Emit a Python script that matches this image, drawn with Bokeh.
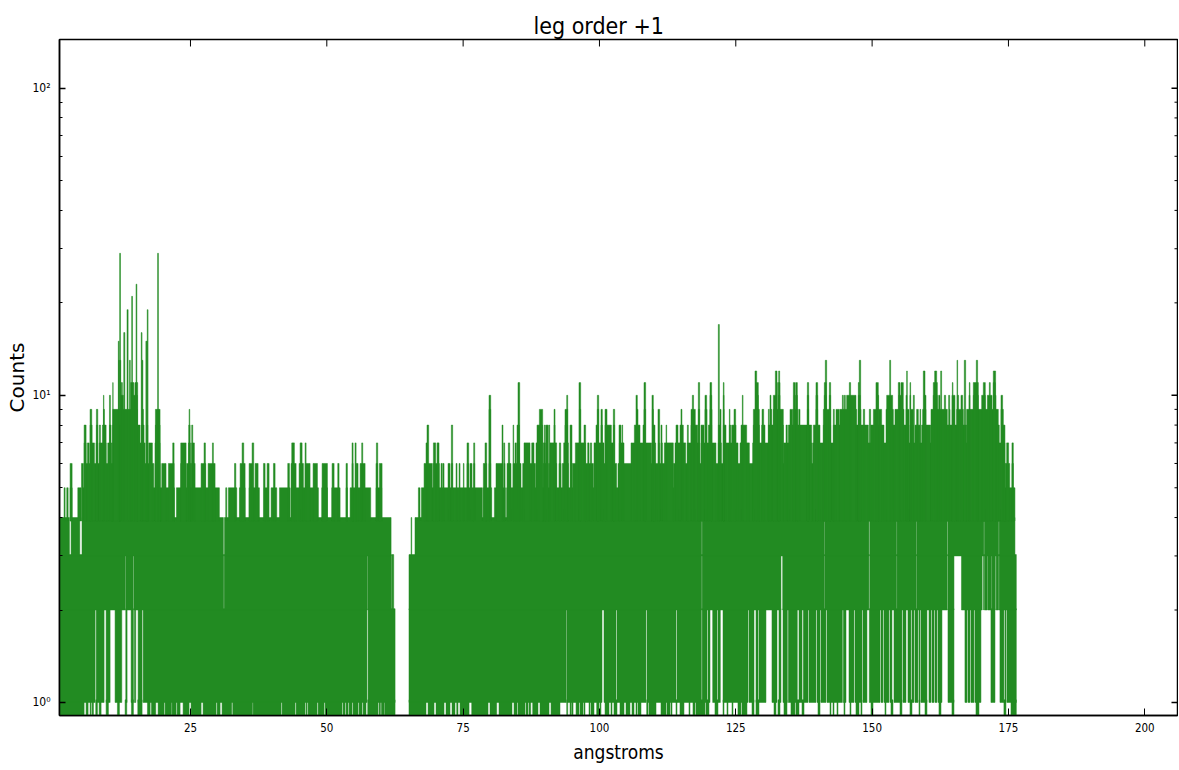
from bokeh.plotting import figure
from bokeh.models import Range1d, FixedTicker, Title
from bokeh.embed import file_html
from bokeh.resources import INLINE

TITLE = "leg order +1"
X_LABEL = "angstroms"
Y_LABEL = "Counts"
GREEN = "#228b22"
X_TICKS = [25, 50, 75, 100, 125, 150, 175, 200]
Y_TICKS = [1, 10, 100]
Y_TICK_LABELS = {1: "10\u2070", 10: "10\u00b9", 100: "10\u00b2"}
Y_MINOR = [2, 3, 4, 5, 6, 7, 8, 9, 20, 30, 40, 50, 60, 70, 80, 90]
X_RANGE = (0.98, 206.0)
Y_RANGE = (0.907, 144.0)
SCALE_FIX = 5.46 / 5.454

# Wavelength spans (angstroms) in which the spectrum reaches each count.
data_start = 1.0
left_end = {1: 62.45, 2: 62.2, 3: 61.9}
right_start = {1: 65.0, 2: 65.0, 3: 65.4}
data_end = 176.25

reach_4 = [(1.0, 2.8), (3.1, 4.7), (5.1, 31.0), (31.2, 61.72), (65.38, 65.5), (66.1, 176.0)]
reach_5 = [(1.82, 2.01), (2.31, 2.56), (2.92, 3.29), (4.33, 4.94), (5.12, 22.03), (22.4, 30.27), (31.43, 31.62),
           (31.92, 33.45), (33.94, 34.98), (35.71, 37.6), (38.46, 39.25), (39.74, 40.78), (41.27, 43.22),
           (43.4, 48.41), (49.02, 50.06), (50.85, 52.38), (53.47, 53.72), (54.21, 57.99), (58.97, 60.01),
           (66.72, 67.02), (67.27, 78.44), (78.62, 80.15), (80.64, 82.65), (82.9, 176.0)]
reach_6 = [(2.92, 3.29), (5.0, 5.36), (5.67, 18.25), (18.49, 19.4), (19.71, 20.5), (20.93, 21.97), (23.19, 24.17),
           (24.29, 25.02), (25.14, 25.82), (26.91, 27.77), (28.2, 29.48), (33.04, 33.28), (34.06, 34.98),
           (35.71, 36.38), (36.81, 37.36), (38.34, 38.64), (39.01, 39.37), (40.17, 40.47), (42.79, 43.1),
           (43.4, 44.32), (44.87, 45.66), (45.97, 46.88), (47.43, 48.23), (49.08, 50.06), (50.91, 51.28),
           (51.95, 52.19), (53.47, 53.72), (54.57, 54.76), (55.31, 55.67), (56.04, 56.96), (58.97, 59.27),
           (59.58, 60.07), (67.76, 69.28), (69.47, 70.56), (70.87, 71.05), (71.17, 71.42), (72.15, 72.52),
           (72.76, 73.0), (73.62, 73.8), (74.17, 74.35), (74.96, 75.08), (75.63, 75.94), (76.18, 76.55),
           (76.85, 77.04), (78.62, 79.23), (79.66, 79.97), (80.94, 82.1), (82.41, 82.59), (82.96, 83.69),
           (84.06, 85.52), (85.83, 88.09), (88.21, 89.31), (89.61, 90.53), (90.71, 92.05), (92.48, 92.85),
           (93.09, 94.19), (94.92, 98.77), (98.89, 103.04), (103.29, 113.42), (113.5, 123.44), (123.56, 174.25),
           (174.3, 175.03), (175.45, 175.7)]
reach_7 = [(5.49, 5.85), (6.1, 6.4), (6.58, 7.38), (7.68, 7.99), (8.29, 9.52), (9.82, 10.55), (10.74, 16.66),
           (17.33, 18.0), (18.49, 19.4), (21.72, 21.97), (23.19, 24.17), (24.6, 24.96), (25.2, 25.69), (27.46, 27.71),
           (28.99, 29.17), (34.43, 34.73), (36.26, 36.56), (43.52, 44.01), (45.05, 45.42), (45.97, 46.15),
           (54.57, 54.76), (55.12, 55.31), (56.34, 56.53), (59.03, 59.27), (68.12, 68.37), (69.47, 69.89),
           (70.14, 70.5), (75.63, 75.94), (76.85, 77.04), (78.93, 79.23), (82.35, 82.53), (83.2, 83.45),
           (84.42, 84.6), (84.73, 85.22), (86.07, 87.17), (87.48, 87.9), (88.27, 89.31), (89.61, 89.98),
           (90.83, 92.05), (92.54, 92.79), (93.34, 94.19), (95.47, 97.36), (97.73, 97.98), (98.22, 98.46),
           (98.89, 100.72), (101.03, 102.43), (103.53, 104.39), (105.67, 109.45), (109.64, 109.76), (109.94, 110.19),
           (110.67, 110.86), (111.16, 111.41), (111.77, 113.42), (113.73, 115.68), (115.99, 118.18), (118.49, 121.23),
           (121.66, 122.22), (122.58, 125.27), (125.64, 127.35), (127.96, 133.57), (133.69, 138.76), (138.94, 174.17),
           (174.48, 174.84), (175.45, 175.7)]
reach_8 = [(5.49, 5.85), (6.58, 6.95), (7.74, 7.99), (8.29, 8.48), (8.84, 9.52), (10.13, 10.43), (10.74, 15.74),
           (15.99, 16.47), (16.96, 17.15), (18.55, 19.4), (24.66, 24.9), (25.2, 25.39), (68.3, 68.61), (72.76, 73.0),
           (82.04, 82.22), (84.06, 84.18), (84.79, 85.22), (88.45, 89.49), (89.8, 89.98), (90.1, 90.53),
           (90.65, 90.77), (91.57, 91.75), (93.58, 94.07), (94.5, 94.86), (97.06, 97.36), (99.26, 99.68),
           (100.17, 100.42), (100.91, 102.07), (102.43, 102.68), (103.47, 103.84), (104.02, 104.14), (106.28, 107.32),
           (107.87, 108.11), (109.64, 110.06), (111.16, 111.35), (112.08, 112.2), (113.91, 114.28), (114.64, 115.25),
           (115.99, 116.17), (116.66, 117.88), (118.49, 119.04), (119.84, 120.45), (121.67, 121.97), (122.58, 123.07),
           (123.68, 123.93), (124.11, 124.9), (125.82, 126.86), (128.08, 129.18), (129.6, 130.21), (130.83, 133.57),
           (134.06, 134.3), (134.49, 138.76), (139.07, 140.29), (140.9, 142.24), (142.73, 149.14), (149.57, 152.01),
           (152.5, 156.47), (156.77, 157.38), (157.69, 158.6), (158.91, 160.56), (160.62, 167.15), (167.45, 173.13),
           (173.56, 174.17)]
reach_9 = [(6.58, 6.89), (7.74, 7.99), (9.03, 9.21), (10.74, 11.96), (12.08, 15.25), (16.11, 16.35), (18.55, 19.4),
           (24.72, 24.84), (79.66, 79.97), (88.88, 89.49), (91.57, 91.75), (93.58, 94.07), (96.2, 96.45),
           (99.5, 99.75), (100.17, 100.42), (100.91, 101.27), (102.43, 102.68), (106.71, 106.95), (108.05, 108.35),
           (109.57, 109.76), (110.61, 110.92), (114.82, 115.0), (116.66, 117.45), (118.0, 118.24), (119.22, 119.59),
           (120.14, 120.5), (121.97, 122.16), (122.58, 122.71), (123.68, 123.8), (124.54, 124.84), (128.08, 129.18),
           (129.67, 129.97), (130.83, 131.0), (131.25, 131.44), (131.74, 133.57), (134.79, 135.28), (135.4, 136.14),
           (136.38, 136.63), (137.97, 138.21), (139.55, 139.86), (140.9, 142.24), (142.73, 142.91), (143.22, 143.83),
           (143.95, 147.0), (147.31, 147.8), (148.22, 148.47), (149.32, 149.57), (150.06, 150.97), (151.09, 151.58),
           (152.38, 153.72), (154.02, 155.67), (156.04, 156.59), (156.89, 157.38), (157.99, 158.3), (158.6, 158.73),
           (159.09, 159.7), (160.62, 163.61), (163.98, 164.1), (164.53, 164.95), (165.32, 166.54), (167.15, 172.95),
           (173.44, 173.87)]
reach_10 = [(9.03, 9.12), (10.13, 10.31), (12.2, 12.69), (14.22, 15.25), (79.66, 79.97), (93.89, 94.07), (99.5, 99.75),
            (106.58, 106.83), (109.51, 109.76), (116.9, 117.13), (119.22, 119.53), (120.14, 120.45), (122.58, 122.71),
            (126.06, 126.19), (128.57, 128.99), (131.13, 131.31), (131.74, 132.23), (132.66, 132.96), (135.53, 135.77),
            (135.89, 136.14), (137.97, 138.21), (139.55, 139.86), (141.08, 141.45), (142.0, 142.24), (144.38, 144.56),
            (144.74, 144.93), (145.17, 146.88), (147.31, 147.67), (150.67, 151.03), (152.5, 153.6), (154.7, 155.24),
            (156.04, 156.22), (156.77, 156.89), (157.38, 157.57), (159.34, 159.7), (161.04, 161.78), (162.02, 162.27),
            (163.06, 163.3), (163.85, 164.04), (164.46, 165.01), (165.44, 165.68), (166.11, 166.42), (167.58, 167.76),
            (168.37, 169.29), (169.9, 170.57), (170.94, 171.79), (172.03, 172.52), (173.44, 173.74)]
reach_11 = [(10.74, 10.8), (12.3, 12.5), (14.0, 14.6), (14.8, 15.3), (84.97, 85.28), (96.14, 96.45), (108.05, 108.35),
            (118.0, 118.24), (120.14, 120.44), (122.58, 122.71), (128.57, 128.99), (132.35, 132.47), (132.66, 132.96),
            (135.4, 135.77), (135.89, 136.14), (137.97, 138.21), (139.55, 139.86), (141.08, 141.45), (142.0, 142.24),
            (145.66, 145.9), (147.31, 147.49), (150.54, 150.97), (154.63, 154.94), (155.12, 155.55), (156.77, 156.89),
            (161.04, 161.78), (164.53, 164.65), (167.64, 167.76), (168.37, 169.29), (170.2, 170.57), (171.3, 171.48),
            (172.03, 172.4)]
reach_12 = [(128.38, 128.69), (132.11, 132.41), (132.72, 132.9), (156.16, 156.28), (159.21, 159.52), (161.29, 161.66),
            (162.39, 162.57), (172.03, 172.46)]
reach_13 = [(11.8, 11.95), (12.05, 12.2), (13.8, 13.95), (16.1, 16.25), (141.26, 141.51), (147.49, 147.74),
            (153.05, 153.23), (165.38, 165.5), (166.72, 166.97), (168.92, 169.16)]
reach_15 = [(11.75, 11.9), (16.8, 16.95), (16.95, 17.05)]
reach_16 = [(12.75, 12.95), (15.95, 16.1)]
reach_19 = [(13.35, 13.55), (17.05, 17.2)]
reach_21 = [(14.2, 14.35)]
reach_23 = [(15.0, 15.15)]
reach_17 = [(121.66, 121.85)]
reach_29 = [(12.0, 12.15), (18.95, 19.1)]

# Spans in which the counts stay above zero (nothing drawn below 1).
no_zero = [(5.49, 5.85), (6.22, 6.59), (6.77, 6.95), (7.2, 7.62), (7.93, 8.24), (8.6, 9.52), (9.94, 11.59), (11.96, 13.0),
           (13.3, 14.16), (14.52, 15.32), (16.11, 17.09), (17.58, 17.82), (18.61, 19.04), (20.14, 20.32), (21.48, 21.6),
           (22.34, 22.52), (23.07, 23.62), (24.72, 25.08), (26.92, 27.28), (29.66, 29.85), (30.4, 30.76), (32.53, 32.72),
           (36.32, 36.44), (41.57, 41.75), (44.13, 44.32), (45.96, 46.15), (46.33, 46.51), (48.16, 48.35), (49.44, 49.63),
           (52.74, 52.92), (53.29, 53.47), (53.84, 54.02), (54.57, 54.75), (55.67, 55.85), (56.4, 56.59), (57.13, 57.44),
           (59.33, 59.52), (59.76, 59.94), (60.43, 60.55), (68.12, 68.49), (69.59, 69.95), (71.42, 71.78), (72.52, 72.88),
           (73.43, 73.74), (73.98, 74.35), (76.0, 76.49), (79.48, 79.84), (81.06, 81.49), (83.87, 84.24), (84.79, 84.97),
           (86.25, 86.44), (86.8, 86.99), (87.29, 87.66), (88.63, 89.0), (90.65, 91.02), (92.66, 93.89), (94.07, 94.5),
           (94.68, 94.8), (95.05, 95.6), (96.14, 96.33), (96.88, 97.06), (97.24, 97.98), (98.16, 98.34), (98.89, 99.38),
           (99.81, 100.0), (100.17, 100.91), (101.64, 102.0), (102.19, 102.55), (103.1, 103.65), (104.39, 104.75),
           (105.48, 105.85), (106.22, 106.58), (106.77, 106.95), (107.5, 108.54), (108.78, 108.96), (110.25, 111.16),
           (112.08, 112.26), (112.81, 112.99), (113.18, 113.91), (114.09, 114.64), (115.37, 116.29), (116.47, 117.02),
           (117.39, 117.57), (119.22, 119.4), (119.95, 121.05), (121.6, 122.52), (122.7, 123.25), (123.43, 124.17),
           (124.35, 125.26), (125.81, 126.0), (126.91, 127.83), (128.2, 128.56), (129.11, 131.86), (132.22, 132.59),
           (132.96, 133.69), (134.24, 134.97), (135.7, 135.89), (136.44, 136.99), (137.36, 139.92), (140.29, 142.12),
           (142.3, 142.67), (142.85, 143.4), (143.58, 144.68), (144.86, 145.78), (145.96, 146.88), (147.43, 147.79),
           (147.98, 149.63), (150.0, 152.19), (152.37, 153.29), (153.66, 154.94), (155.3, 156.77), (157.14, 158.42),
           (158.6, 159.52), (159.88, 162.08), (162.45, 164.46), (164.83, 168.86), (169.41, 173.98), (174.35, 175.27)]

# Spans in which the counts stay at 2 or more (nothing drawn between 1 and 2).
no_one = [(7.5, 7.7), (9.15, 9.52), (10.25, 11.16), (12.39, 13.12), (13.36, 14.1), (14.52, 14.7), (14.95, 15.38),
          (16.1, 16.3), (57.3, 57.5), (93.76, 93.89), (100.36, 100.72), (102.92, 103.1), (108.41, 108.6),
          (113.91, 114.09), (118.55, 118.7), (119.59, 119.77), (120.14, 120.63), (121.42, 121.6), (122.03, 122.52),
          (127.1, 127.28), (128.2, 128.56), (128.93, 129.11), (130.39, 131.49), (132.41, 132.77), (133.14, 133.51),
          (134.3, 134.49), (136.13, 136.44), (136.99, 137.23), (138.09, 138.27), (139.55, 139.74), (140.29, 140.47),
          (141.38, 141.57), (144.38, 144.56), (145.05, 145.6), (146.51, 146.7), (147.98, 148.16), (148.89, 149.32),
          (151.28, 151.46), (151.82, 152.01), (152.92, 153.11), (153.47, 153.84), (155.3, 155.49), (156.04, 156.4),
          (156.95, 157.14), (157.5, 157.69), (158.23, 158.42), (158.6, 158.78), (159.88, 160.25), (160.62, 160.8),
          (161.17, 161.35), (161.71, 161.9), (162.63, 163.73), (164.83, 166.84), (167.21, 167.39), (167.76, 167.94),
          (168.49, 168.67), (169.77, 171.6), (172.34, 173.25), (173.98, 174.17), (174.35, 174.53)]

# Spans in which the counts stay at 3 or more (nothing drawn between 2 and 3).
no_two = [(13.0, 13.1), (14.48, 14.6), (31.05, 31.15), (57.32, 57.42), (61.8, 61.9), (118.6, 118.7), (133.14, 133.45),
          (141.1, 141.2), (149.25, 149.4), (154.3, 154.4), (157.9, 158.0), (163.6, 163.73), (164.83, 166.2),
          (170.0, 170.25), (170.3, 170.4), (170.9, 171.0), (171.7, 171.8), (172.4, 172.55), (173.0, 173.1)]

# Spans in which the counts stay at 4 or more (nothing drawn between 3 and 4).
no_three = [(31.05, 31.15), (118.6, 118.7), (141.1, 141.2), (149.25, 149.4), (154.3, 154.4), (157.9, 158.0),
            (163.6, 163.73), (170.3, 170.4), (173.0, 173.1)]

REACHES = {5: reach_5, 6: reach_6, 7: reach_7, 8: reach_8, 9: reach_9, 10: reach_10, 11: reach_11,
           12: reach_12, 13: reach_13, 15: reach_15, 16: reach_16, 17: reach_17, 19: reach_19, 21: reach_21,
           23: reach_23, 29: reach_29}


def fix(x):
    return 1.0 + (x - 1.0) * SCALE_FIX


def subtract(spans, gaps):
    out = []
    for lo, hi in spans:
        pos = lo
        for a, b in gaps:
            if b <= pos or a >= hi:
                continue
            if a > pos:
                out.append((pos, a))
            pos = max(pos, b)
        if pos < hi:
            out.append((pos, hi))
    return out


def draw(p, spans, bottom, top):
    p.quad(left=[fix(a) for a, _ in spans], right=[fix(b) for _, b in spans],
           bottom=[bottom] * len(spans), top=[top] * len(spans),
           fill_color=GREEN, line_color=GREEN, line_width=0.5)


p = figure(frame_width=1118, frame_height=676, y_axis_type="log", x_range=Range1d(*X_RANGE), y_range=Range1d(*Y_RANGE),
           output_backend="svg", toolbar_location=None, min_border_left=59, min_border_top=39, min_border_right=1,
           min_border_bottom=50, background_fill_color="white", border_fill_color="white", outline_line_color="black",
           outline_line_width=1.5)
p.grid.visible = False

draw(p, subtract([(data_start, left_end[1]), (right_start[1], data_end)], no_zero), Y_RANGE[0], 1.02)
draw(p, subtract([(data_start, left_end[1]), (right_start[1], data_end)], no_one), 1, 2.02)
draw(p, subtract([(data_start, left_end[2]), (right_start[2], data_end)], no_two), 2, 3.03)
draw(p, subtract(reach_4, no_three), 3, 4)
for level, spans in REACHES.items():
    draw(p, spans, 3.9, level)

# Inward ticks along the top and right edges, through the same scales as the data.
PX_X = (X_RANGE[1] - X_RANGE[0]) / 1118
x_tick_drop = 10 ** (-7 * 2.2 / 676)
p.segment(x0=X_TICKS, x1=X_TICKS, y0=[Y_RANGE[1]] * len(X_TICKS), y1=[Y_RANGE[1] * x_tick_drop] * len(X_TICKS),
          line_color="black", line_width=1)
p.segment(x0=[X_RANGE[1]] * len(Y_TICKS), x1=[X_RANGE[1] - 6 * PX_X] * len(Y_TICKS), y0=Y_TICKS, y1=Y_TICKS,
          line_color="black", line_width=1.5)
p.segment(x0=[X_RANGE[1]] * len(Y_MINOR), x1=[X_RANGE[1] - 3 * PX_X] * len(Y_MINOR), y0=Y_MINOR, y1=Y_MINOR,
          line_color="black", line_width=1)

x_ticker = FixedTicker(ticks=X_TICKS, minor_ticks=[])
y_ticker = FixedTicker(ticks=Y_TICKS, minor_ticks=Y_MINOR)
COND = "DejaVu Sans Condensed"

ax = p.xaxis[0]
ax.ticker = x_ticker
ax.axis_label = X_LABEL
ax.axis_label_text_font = COND
ax.axis_label_text_font_size = "19px"
ax.axis_label_text_font_style = "normal"
ax.axis_label_text_color = "black"
ax.axis_label_standoff = 6
ax.major_label_text_font = COND
ax.major_label_text_font_size = "11.5px"
ax.major_label_text_color = "black"
ax.major_label_standoff = 7
ax.major_tick_in = 7
ax.major_tick_out = 0
ax.axis_line_width = 1.5
ax.major_tick_line_width = 1

ay = p.yaxis[0]
ay.ticker = y_ticker
ay.major_label_overrides = Y_TICK_LABELS
ay.axis_label = Y_LABEL
ay.axis_label_text_font = "DejaVu Sans"
ay.axis_label_text_font_size = "20px"
ay.axis_label_text_font_style = "normal"
ay.axis_label_text_color = "black"
ay.axis_label_standoff = 0
ay.major_label_text_font = COND
ay.major_label_text_font_size = "12px"
ay.major_label_text_color = "black"
ay.major_label_standoff = 9
ay.major_tick_in = 6
ay.major_tick_out = 0
ay.minor_tick_in = 3
ay.minor_tick_out = 0
ay.axis_line_width = 1.5
ay.major_tick_line_width = 1.5

p.title = Title(text=TITLE, text_font=COND, text_font_size="23px", text_font_style="normal", align="left",
                text_color="black", standoff=2, offset=474)

open("out.html", "w").write(file_html(p, INLINE))
